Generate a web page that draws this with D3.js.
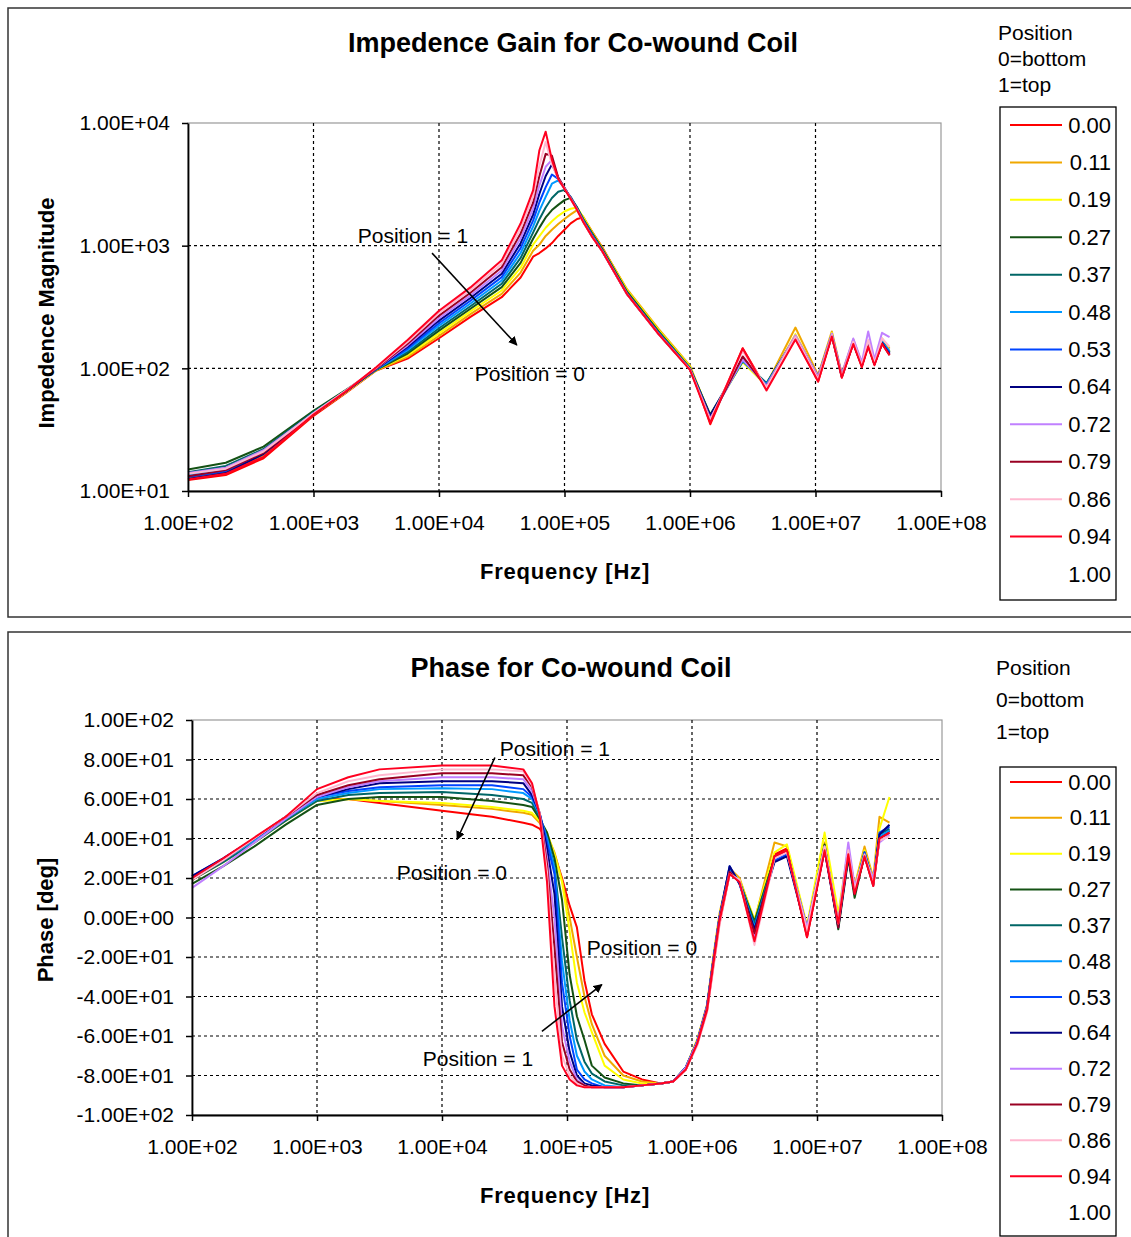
<!DOCTYPE html>
<html>
<head>
<meta charset="utf-8">
<script src="https://cdn.jsdelivr.net/npm/d3@7"></script>
<style>
  body { margin: 0; background: #fff; }
  svg { display: block; }
  text { font-family: "Liberation Sans", Arial, sans-serif; }
</style>
</head>
<body>
<svg id="chart" width="1131" height="1237"></svg>
<script>
// legend entries (position along the coil) and their colours
const positions = ['0.00', '0.11', '0.19', '0.27', '0.37', '0.48', '0.53', '0.64', '0.72', '0.79', '0.86', '0.94', '1.00'];
const colors = ['#ff0000', '#f0a800', '#ffff00', '#145214', '#006666', '#0099ff', '#0044ff', '#000080', '#c080ff', '#990022', '#ffb8d0', '#ff0020', null];

// ---- impedance magnitude (Ohm) vs frequency (Hz)
const magFreq = [100, 200, 400, 1000, 1780, 3160, 5620, 10000, 17800, 31600, 44700, 56200, 63100, 70800, 79400, 89100, 100000, 112000, 126000, 141000, 166000, 200000, 316000, 562000, 1000000, 1450000, 2630000, 4070000, 6920000, 10500000, 13500000, 16200000, 20000000, 23400000, 26300000, 29500000, 33900000, 38900000];
const mag000 = [12.3, 13.5, 18.5, 41, 62, 96, 120, 176, 263, 380, 550, 813, 871, 950, 1050, 1200, 1350, 1520, 1650, 1700, 1300, 970, 430, 205, 103, 35, 146, 68, 175, 78, 185, 84, 160, 104, 152, 108, 160, 132];
const mag011 = [12.8, 14.2, 19.5, 42, 63, 96, 124, 184, 277, 405, 603, 910, 1021, 1200, 1350, 1500, 1650, 1800, 1950, 1720, 1300, 960, 440, 210, 105, 40, 118, 74, 215, 88, 200, 90, 172, 110, 165, 114, 175, 145];
const mag019 = [13.0, 14.5, 20, 42, 63, 97, 128, 193, 291, 431, 661, 1019, 1197, 1400, 1580, 1750, 1900, 2000, 2050, 1700, 1280, 950, 430, 205, 103, 41, 112, 72, 190, 86, 195, 88, 168, 106, 160, 110, 170, 138];
const mag027 = [15.0, 17.0, 23, 45, 66, 97, 132, 203, 306, 459, 724, 1140, 1403, 1700, 1950, 2150, 2350, 2450, 2050, 1650, 1260, 940, 420, 200, 101, 42, 115, 75, 182, 86, 190, 88, 165, 108, 158, 112, 166, 135];
const mag037 = [14.2, 16, 22, 44, 65, 98, 136, 212, 321, 489, 794, 1276, 1644, 2050, 2450, 2750, 2850, 2500, 2020, 1620, 1230, 920, 410, 196, 100, 41, 114, 76, 180, 85, 188, 87, 164, 108, 158, 112, 165, 136];
const mag048 = [13.5, 15, 21, 43, 64, 98, 141, 223, 338, 520, 871, 1429, 1928, 2500, 3200, 3400, 2950, 2450, 2000, 1600, 1220, 910, 405, 194, 99, 40, 116, 74, 178, 84, 186, 86, 162, 108, 156, 112, 164, 138];
const mag053 = [13.0, 14.5, 20.5, 43, 64, 99, 145, 233, 356, 554, 955, 1600, 2259, 3000, 3800, 3500, 2950, 2450, 2000, 1600, 1210, 910, 405, 193, 99, 40, 120, 72, 180, 84, 186, 86, 162, 106, 156, 110, 162, 134];
const mag064 = [12.5, 14, 20, 42, 64, 99, 150, 245, 374, 590, 1047, 1791, 2649, 3700, 4600, 3600, 2950, 2450, 2000, 1590, 1200, 905, 402, 192, 98, 41, 122, 72, 176, 84, 184, 86, 160, 106, 154, 108, 160, 130];
const mag072 = [14.0, 15.5, 21.5, 43, 65, 100, 154, 256, 393, 628, 1148, 2004, 3105, 4400, 5000, 3600, 2950, 2450, 1980, 1580, 1190, 900, 400, 191, 98, 39, 118, 72, 186, 86, 192, 90, 175, 112, 200, 118, 195, 180];
const mag079 = [13.2, 14.8, 20.5, 42.5, 64, 100, 159, 269, 413, 668, 1259, 2244, 3700, 5600, 5400, 3600, 2950, 2420, 1970, 1570, 1185, 900, 400, 190, 98, 38, 125, 70, 178, 82, 184, 86, 160, 104, 154, 108, 160, 128];
const mag086 = [13.8, 15.2, 21, 43, 65, 101, 164, 282, 434, 712, 1380, 2512, 4500, 7000, 4600, 3500, 2920, 2400, 1960, 1560, 1180, 900, 400, 190, 98, 38, 138, 70, 180, 82, 186, 86, 165, 106, 170, 110, 175, 150];
const mag094 = [12.4, 13.8, 19, 42, 64, 102, 170, 295, 457, 759, 1514, 2818, 6000, 8500, 5000, 3500, 2900, 2400, 1950, 1560, 1180, 900, 400, 190, 97, 36, 145, 66, 172, 78, 182, 84, 158, 102, 150, 106, 158, 128];
const magSeries = [mag000, mag011, mag019, mag027, mag037, mag048, mag053, mag064, mag072, mag079, mag086, mag094];

// ---- phase (deg) vs frequency (Hz)
const phFreq = [100, 178, 316, 562, 1000, 1780, 3160, 10000, 25100, 44700, 52500, 60300, 69200, 79400, 91200, 105000, 120000, 138000, 158000, 200000, 282000, 398000, 562000, 708000, 891000, 1100000, 1320000, 1480000, 1660000, 2000000, 2400000, 3160000, 4570000, 5750000, 8320000, 11500000, 14800000, 17800000, 20000000, 24000000, 28200000, 31600000, 38000000];
const ph000 = [20, 29, 39, 50, 60, 60, 58, 54, 51, 48, 47, 45, 40, 32, 20, 6, -5, -32, -49, -64, -78, -82, -84, -83, -77, -64, -47, -25, -3, 22, 19, -12, 32, 35, -10, 34, -2, 32, 12, 31, 17, 40, 44];
const ph011 = [20, 29, 39, 49, 59, 60, 59, 57, 55, 53, 52, 48, 42, 33, 19, 0, -20, -40, -54, -70, -80, -83, -84, -83, -76, -62, -44, -20, 2, 25, 20, -2, 38, 36, -6, 38, 0, 34, 16, 36, 20, 51, 48];
const ph019 = [19, 28, 38, 49, 59, 60, 59, 58, 56, 54, 53, 49, 43, 32, 18, -7, -33, -48, -58, -75, -82, -84, -84, -83, -76, -62, -45, -21, 1, 24, 19, -1, 33, 37, -4, 43, 2, 35, 15, 34, 19, 45, 61];
const ph027 = [17, 26, 36, 47, 57, 60, 61, 61, 59, 57, 56, 50, 43, 30, 9, -29, -50, -62, -75, -81, -84, -85, -84, -83, -76, -63, -45, -22, 0, 24, 18, -2, 30, 33, -8, 37, -6, 30, 10, 32, 18, 40, 44];
const ph037 = [19, 28, 38, 49, 59, 62, 63, 63.5, 62, 60, 58, 51, 41, 26, -10, -42, -62, -73, -79, -83, -85, -85, -84, -83, -76, -63, -45, -22, 0, 24, 18, -3, 30, 33, -5, 36, -3, 33, 14, 33, 18, 42, 45];
const ph048 = [20, 29, 39, 50, 60, 63, 65, 65.5, 65, 63, 60, 52, 40, 25, -22, -52, -70, -78, -82, -85, -86, -85, -84, -83, -76, -63, -45, -22, 0, 25, 18, -5, 29, 32, -6, 35, -4, 32, 13, 32, 17, 41, 44];
const ph053 = [21, 30, 40, 50, 61, 64, 66, 67, 67, 65, 61, 53, 38, 22, -33, -60, -77, -82, -84, -86, -86, -85, -84, -83, -76, -63, -45, -22, 0, 26, 17, -7, 29, 32, -7, 35, -4, 32, 13, 33, 18, 43, 46];
const ph064 = [21, 30, 40, 51, 61, 65, 68, 69, 69, 68, 62, 53, 35, 12, -45, -68, -80, -84, -85, -86, -86, -85, -84, -83, -76, -63, -45, -22, 0, 26, 17, -6, 28, 31, -8, 34, -5, 31, 12, 32, 17, 42, 47];
const ph072 = [15, 26, 38, 50, 61, 66, 69, 71, 71, 70, 64, 53, 30, 0, -55, -73, -82, -85, -86, -86, -86, -85, -84, -83, -76, -63, -45, -22, 0, 23, 18, -10, 30, 33, -5, 36, -2, 38, 16, 30, 20, 38, 42];
const ph079 = [19, 29, 40, 51, 62, 67, 70, 73, 73, 72, 66, 53, 27, -15, -63, -77, -83, -85, -86, -86, -86, -85, -84, -83, -77, -64, -46, -23, -1, 23, 18, -8, 31, 34, -9, 35, -5, 32, 12, 31, 16, 40, 43];
const ph086 = [19, 29, 40, 51, 63, 69, 72, 75, 75, 74, 67, 53, 23, -30, -70, -80, -84, -86, -86, -86, -86, -85, -84, -83, -77, -65, -48, -26, -4, 22, 19, -14, 30, 33, -7, 36, -3, 34, 14, 32, 17, 39, 41];
const ph094 = [20, 30, 40.5, 51, 65, 71, 75, 77, 77, 75, 68, 52, 18, -45, -75, -82, -85, -86, -86, -86, -86, -85, -84, -83, -77, -64, -47, -24, -2, 22, 18, -12, 31, 34, -10, 34, -3, 32, 12, 31, 16, 40, 43];
const phSeries = [ph000, ph011, ph019, ph027, ph037, ph048, ph053, ph064, ph072, ph079, ph086, ph094];

// tick values
const freqTicks = [1e2, 1e3, 1e4, 1e5, 1e6, 1e7, 1e8];
const magTicks = [1e1, 1e2, 1e3, 1e4];
const phTicks = [-100, -80, -60, -40, -20, 0, 20, 40, 60, 80, 100];

// annotations: [label, freq, value] and arrows: [f1, v1, f2, v2]
const magNotes = [['Position = 1', 6200, 1050], ['Position = 0', 53000, 79]];
const magArrows = [[8800, 870, 41700, 155]];
const phNotes = [['Position = 1', 80000, 82], ['Position = 0', 12000, 19], ['Position = 0', 398000, -19], ['Position = 1', 19400, -75]];
const phArrows = [[26500, 81, 13200, 39.5], [63000, -57.7, 190000, -34]];

const svg = d3.select('#chart');
const FONT = '"Liberation Sans", Arial, sans-serif';

svg.append('defs').append('marker')
    .attr('id', 'arrow')
    .attr('viewBox', '0 0 10 10')
    .attr('refX', 9).attr('refY', 5)
    .attr('markerWidth', 9).attr('markerHeight', 9)
    .attr('markerUnits', 'userSpaceOnUse')
    .attr('orient', 'auto')
    .append('path')
    .attr('d', 'M0,0L10,5L0,10Z')
    .attr('fill', '#000');

function sciFormat(v) {
    const [m, e] = d3.format('.2e')(v).replace('\u2212', '-').split('e');
    const n = +e;
    return m + 'E' + (n < 0 ? '-' : '+') + String(Math.abs(n)).padStart(2, '0');
}

function drawPanel(cfg) {
    const g = svg.append('g');

    // outer frame of the chart
    g.append('rect')
        .attr('x', 8).attr('y', cfg.frameTop)
        .attr('width', 1140).attr('height', cfg.frameHeight)
        .attr('fill', 'none').attr('stroke', '#333').attr('stroke-width', 1.5);

    const x = d3.scaleLog().domain([1e2, 1e8]).range(cfg.xRange);
    const y = cfg.y;
    const [x0, x1] = cfg.xRange;
    const [y0, y1] = y.range(); // bottom, top

    // plot area border (grey top/right)
    g.append('rect')
        .attr('x', x0).attr('y', y1)
        .attr('width', x1 - x0).attr('height', y0 - y1)
        .attr('fill', 'none').attr('stroke', '#999').attr('stroke-width', 1.2);

    // dashed grid
    g.append('g').selectAll('line')
        .data(freqTicks.slice(1, -1))
        .join('line')
        .attr('x1', d => x(d)).attr('x2', d => x(d))
        .attr('y1', y1).attr('y2', y0)
        .attr('stroke', '#000').attr('stroke-width', 1.2).attr('stroke-dasharray', '3,3');
    g.append('g').selectAll('line')
        .data(cfg.yTicks.slice(1, -1))
        .join('line')
        .attr('x1', x0).attr('x2', x1)
        .attr('y1', d => y(d)).attr('y2', d => y(d))
        .attr('stroke', '#000').attr('stroke-width', 1.2).attr('stroke-dasharray', '3,3');

    // series
    const line = d3.line()
        .x(d => x(d[0]))
        .y(d => y(d[1]));
    g.append('g').selectAll('path')
        .data(cfg.series)
        .join('path')
        .attr('fill', 'none')
        .attr('stroke', (d, i) => colors[i])
        .attr('stroke-width', 2)
        .attr('stroke-linejoin', 'round')
        .attr('d', vals => line(vals.map((v, j) => [cfg.freq[j], v])));

    // axes
    g.append('g')
        .attr('transform', `translate(0,${y0})`)
        .call(d3.axisBottom(x).tickValues(freqTicks).tickFormat(sciFormat).tickSizeInner(6).tickSizeOuter(0).tickPadding(18))
        .call(a => a.select('.domain').attr('stroke-width', 1.8))
        .call(a => a.selectAll('.tick line').attr('stroke-width', 1.5))
        .call(a => a.selectAll('text').attr('font-size', 21).attr('font-family', FONT).attr('fill', '#000'));
    g.append('g')
        .attr('transform', `translate(${x0},0)`)
        .call(d3.axisLeft(y).tickValues(cfg.yTicks).tickFormat(sciFormat).tickSizeInner(6).tickSizeOuter(0).tickPadding(12))
        .call(a => a.select('.domain').attr('stroke-width', 1.8))
        .call(a => a.selectAll('.tick line').attr('stroke-width', 1.5))
        .call(a => a.selectAll('text').attr('font-size', 21).attr('font-family', FONT).attr('fill', '#000'));

    // titles
    g.append('text')
        .attr('x', cfg.titleX).attr('y', cfg.titleY)
        .attr('text-anchor', 'middle')
        .attr('font-size', 27).attr('font-weight', 'bold')
        .text(cfg.title);
    g.append('text')
        .attr('x', 565).attr('y', y0 + 88)
        .attr('text-anchor', 'middle')
        .attr('font-size', 22).attr('font-weight', 'bold')
        .attr('letter-spacing', 0.8)
        .text('Frequency [Hz]');
    g.append('text')
        .attr('transform', `translate(${cfg.yTitleX},${cfg.yTitleY}) rotate(-90)`)
        .attr('text-anchor', 'middle')
        .attr('dominant-baseline', 'central')
        .attr('font-size', 22).attr('font-weight', 'bold')
        .text(cfg.yTitle);

    // annotations
    g.append('g').selectAll('text')
        .data(cfg.notes)
        .join('text')
        .attr('x', d => x(d[1])).attr('y', d => y(d[2]))
        .attr('text-anchor', 'middle')
        .attr('font-size', 21)
        .text(d => d[0]);
    g.append('g').selectAll('line')
        .data(cfg.arrows)
        .join('line')
        .attr('x1', d => x(d[0])).attr('y1', d => y(d[1]))
        .attr('x2', d => x(d[2])).attr('y2', d => y(d[3]))
        .attr('stroke', '#000').attr('stroke-width', 1.6)
        .attr('marker-end', 'url(#arrow)');

    // legend
    const lg = g.append('g');
    lg.selectAll('text.head')
        .data(cfg.legendHead)
        .join('text')
        .attr('class', 'head')
        .attr('x', cfg.legendHeadX).attr('y', (d, i) => cfg.legendHeadY + i * cfg.legendHeadStep)
        .attr('font-size', 21)
        .text(d => d);
    lg.append('rect')
        .attr('x', 1000).attr('y', cfg.legendBox[0])
        .attr('width', 116).attr('height', cfg.legendBox[1] - cfg.legendBox[0])
        .attr('fill', 'none').attr('stroke', '#000').attr('stroke-width', 1.3);
    const ly = d3.scalePoint().domain(positions).range(cfg.legendRows);
    const item = lg.selectAll('g.item')
        .data(positions)
        .join('g')
        .attr('class', 'item')
        .attr('transform', d => `translate(0,${ly(d)})`);
    item.filter((d, i) => colors[i])
        .append('line')
        .attr('x1', 1010).attr('x2', 1062)
        .attr('stroke', d => colors[positions.indexOf(d)])
        .attr('stroke-width', 2);
    item.append('text')
        .attr('x', 1111).attr('y', 0)
        .attr('text-anchor', 'end')
        .attr('dominant-baseline', 'central')
        .attr('font-size', 22)
        .text(d => d);
}

drawPanel({
    frameTop: 8, frameHeight: 609,
    xRange: [188, 941],
    y: d3.scaleLog().domain([10, 10000]).range([491, 123]),
    yTicks: magTicks,
    freq: magFreq, series: magSeries,
    title: 'Impedence Gain for Co-wound Coil', titleX: 573, titleY: 52,
    yTitle: 'Impedence Magnitude', yTitleX: 46, yTitleY: 313,
    notes: magNotes, arrows: magArrows,
    legendHead: ['Position', '0=bottom', '1=top'], legendHeadX: 998, legendHeadY: 40, legendHeadStep: 26,
    legendBox: [107, 600], legendRows: [125, 574]
});

drawPanel({
    frameTop: 632, frameHeight: 620,
    xRange: [192, 942],
    y: d3.scaleLinear().domain([-100, 100]).range([1115, 720]),
    yTicks: phTicks,
    freq: phFreq, series: phSeries,
    title: 'Phase for Co-wound Coil', titleX: 571, titleY: 677,
    yTitle: 'Phase [deg]', yTitleX: 45, yTitleY: 920,
    notes: phNotes, arrows: phArrows,
    legendHead: ['Position', '0=bottom', '1=top'], legendHeadX: 996, legendHeadY: 675, legendHeadStep: 32,
    legendBox: [767, 1236], legendRows: [782, 1212]
});
</script>
</body>
</html>
